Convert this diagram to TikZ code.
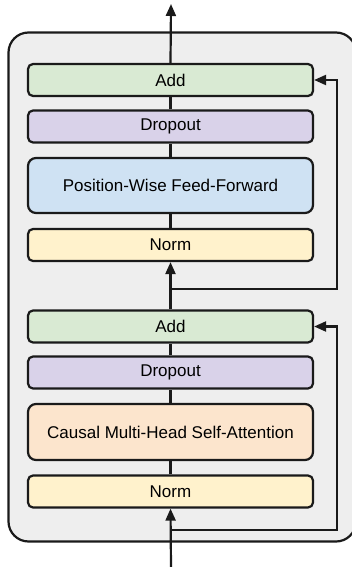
\documentclass[tikz,border=0pt]{standalone}
\usepackage{fontspec}
\setmainfont{Liberation Sans}
\usetikzlibrary{arrows.meta}

\definecolor{addfill}{HTML}{D9EAD3}
\definecolor{dropfill}{HTML}{D9D2E9}
\definecolor{fffill}{HTML}{CFE2F3}
\definecolor{normfill}{HTML}{FFF2CC}
\definecolor{attnfill}{HTML}{FCE5CD}
\definecolor{blockfill}{HTML}{EEEEEE}
\definecolor{edge}{HTML}{1A1A1A}

\tikzset{
  layer/.style={draw=edge, line width=2.2pt, rounded corners=5pt,
    minimum width=285pt, minimum height=32pt, inner sep=0pt,
    font=\fontsize{17}{19}\selectfont},
  wire/.style={draw=edge, line width=2.2pt},
  flow/.style={wire, -{Triangle[length=12pt,width=10pt]}},
}

\begin{document}
\begin{tikzpicture}[x=1pt,y=-1pt]
  \useasboundingbox (0,0) rectangle (351,567);

  % decoder block background
  \fill[blockfill, draw=edge, line width=2.2pt, rounded corners=20pt]
    (8.5,32.5) rectangle (356,541.5);

  % upper sub-layer
  \node[layer, fill=addfill]  (add2)  at (170.5,80)  {Add};
  \node[layer, fill=dropfill] (drop2) at (170.5,126.5) {Dropout};
  \node[layer, fill=fffill, minimum height=55pt, rounded corners=8pt] (ff) at (170.5,185.5) {Position-Wise Feed-Forward};
  \node[layer, fill=normfill] (norm2) at (170.5,245) {Norm};

  % lower sub-layer
  \node[layer, fill=addfill]  (add1)  at (170.5,326.5) {Add};
  \node[layer, fill=dropfill] (drop1) at (170.5,372.5) {Dropout};
  \node[layer, fill=attnfill, minimum height=56pt, rounded corners=8pt] (attn) at (170.5,432) {Causal Multi-Head Self-Attention};
  \node[layer, fill=normfill] (norm1) at (170.5,491.5) {Norm};

  % free ends and branch points
  \coordinate (out)  at (171,4);
  \coordinate (in)   at (171,567);
  \coordinate (br1)  at (171,530);
  \coordinate (br2)  at (171,289);
  \coordinate (rx1)  at (337,530);
  \coordinate (rx2)  at (337,289);

  % main data path
  \draw[flow] (in) -- (norm1.south);
  \draw[wire] (norm1.north) -- (attn.south);
  \draw[wire] (attn.north) -- (drop1.south);
  \draw[wire] (drop1.north) -- (add1.south);
  \draw[flow] (add1.north) -- (norm2.south);
  \draw[wire] (norm2.north) -- (ff.south);
  \draw[wire] (ff.north) -- (drop2.south);
  \draw[wire] (drop2.north) -- (add2.south);
  \draw[flow] (add2.north) -- (out);

  % residual connections
  \draw[flow] (br1) -- (rx1) |- (add1.east);
  \draw[flow] (br2) -- (rx2) |- (add2.east);
\end{tikzpicture}
\end{document}
